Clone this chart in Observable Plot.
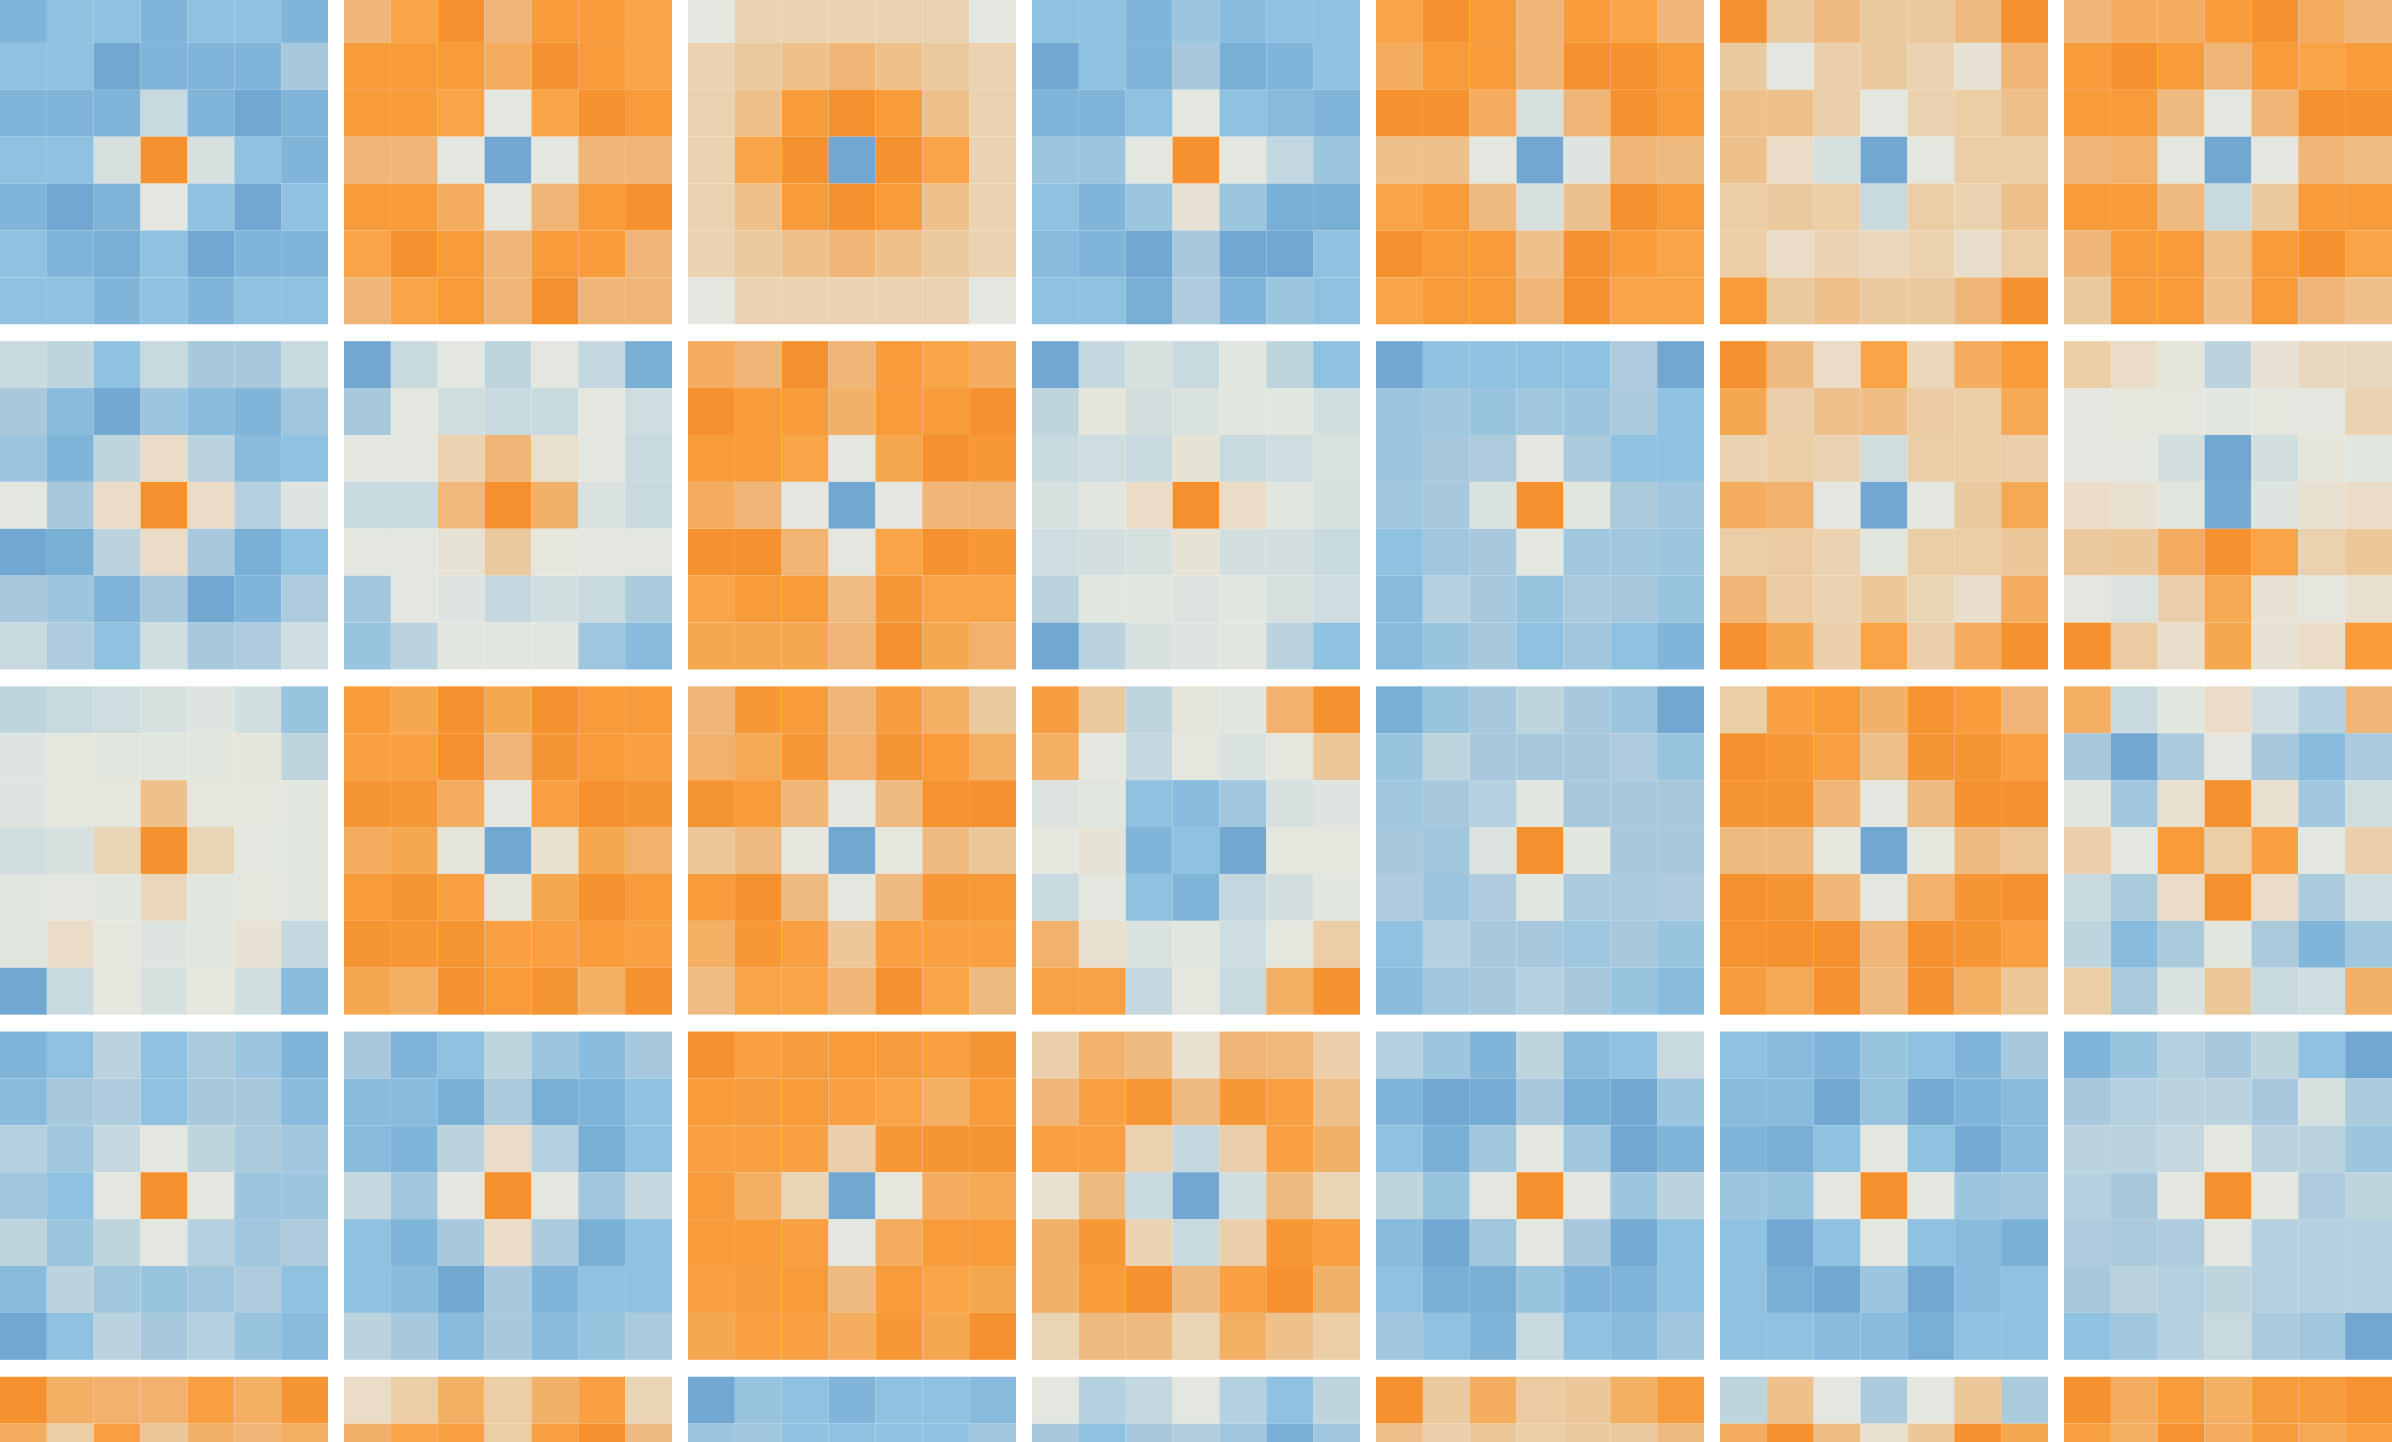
<!DOCTYPE html>
<html>
<head>
<meta charset="utf-8">
<script src="https://cdn.jsdelivr.net/npm/d3@7"></script>
<script src="https://cdn.jsdelivr.net/npm/@observablehq/plot@0.6"></script>
<style>
html, body { margin: 0; padding: 0; background: #ffffff; overflow: hidden; }
#chart svg { display: block; margin-top: -3.8px; }
</style>
</head>
<body>
<div id="chart"></div>
<script>
// Panel values (7x7 cells each), negative = blue, positive = orange.
const p00 = [[-4,-3,-3,-4,-3,-3,-4],[-3,-3,-5,-4,-4,-4,-2],[-4,-4,-4,-1,-4,-5,-4],[-3,-3,-0.5,5,-0.5,-3,-4],[-4,-5,-4,0,-3,-5,-3],[-3,-4,-4.5,-3,-5,-4,-4],[-3,-3,-4,-3,-4,-3,-3]];
const p01 = [[3,4,5,3,4.5,4.5,4],[4.5,4.5,4.5,3.5,5,4.5,4],[4.5,4.5,4,0,4,5,4.5],[3,3,0,-5,0,3,3],[4.5,4.5,3.5,0,3,4.5,5],[4,5,4.5,3,4.5,4.5,3],[3,4,4.5,3,5,3,3]];
const p02 = [[0,1.5,1.5,1.5,1.5,1.5,0],[1.5,2,2.5,3,2.5,2,1.5],[1.5,2.5,4.5,5,4.5,2.5,1.5],[1.5,4,5,-5,5,4,1.5],[1.5,2.5,4.5,5,4.5,2.5,1.5],[1.5,2,2.5,3,2.5,2,1.5],[0,1.5,1.5,1.5,1.5,1.5,0]];
const p03 = [[-3,-3,-4,-2.5,-3.5,-3,-3],[-5,-3,-4,-2,-4.5,-4,-3],[-4,-4,-3,0,-3,-3.5,-4],[-2.5,-2.5,0,5,0,-1.2,-2.5],[-3,-4,-2.5,0.5,-2.5,-4.5,-4.5],[-3.5,-4,-5,-2,-5,-5,-3],[-3,-3,-4.5,-1.8,-4,-2.5,-3]];
const p04 = [[4,5,4.5,3,4.5,4,3],[3.5,4.5,4.5,3,5,5,4.5],[5,5,3.5,-0.5,3,5,4.5],[2.5,2.5,0,-5,-0.2,3,2.8],[4,4.5,2.8,-0.5,2.4,5,4.5],[5,4.5,4.5,2.5,5,4.5,4],[4,4.5,4.5,3,5,4,4]];
const p05 = [[5,2,2.8,2,2,2.8,5],[2,0,1.7,2,1.5,0.5,3],[2.5,2.5,1.7,0,1.5,1.8,2.5],[2.5,1,-0.5,-5,0,1.8,1.8],[1.8,2,1.8,-1,1.8,1.5,2.5],[1.8,1,1.5,1.3,1.6,0.8,1.8],[4.5,2,2.5,2,2,3,5]];
const p06 = [[3,3.5,3.5,4.5,5,3.5,3],[4.5,5,4.5,3,4.5,4,4.5],[4.5,4.5,2.8,0,3,5,5],[3,3.2,0,-5,0,3,2.7],[4.5,4.5,2.8,-1,2,4.5,4.5],[3,4.5,4.5,2.6,4.5,5,4],[2,4.5,4.5,2.5,4.5,3,2.5]];

const p10 = [[-1,-1.3,-3,-1,-2,-2,-1],[-2,-3.5,-5,-2.5,-3.5,-4,-2.3],[-2.5,-4,-1.3,1,-1.4,-3.5,-3],[0,-2,1,5,1,-1.6,-0.2],[-5,-4.5,-1.4,1,-2,-4.5,-3],[-2,-2.5,-4,-2,-5,-4,-1.8],[-1,-1.8,-3,-0.7,-2,-1.8,-0.8]];
const p11 = [[-5,-1,0,-1.3,0,-1.1,-4.5],[-2,0,-0.7,-1,-1,0,-0.8],[0,0,1.5,3,0.7,0,-1],[-1,-1,2.9,5,3.3,-0.4,-1],[0,0,0.4,2,0.1,0,0],[-2.3,0,-0.2,-1.1,-0.7,-1,-1.9],[-2.6,-1.4,-0.1,-0.1,-0.1,-2.4,-3.5]];
const p12 = [[3.5,3,5,3,4.5,4,3.5],[5,4.5,4.5,3.3,4.5,4.5,5],[4.5,4.5,4,0,3.8,5,4.7],[3.5,3,0,-5,0,3,3],[5,5,3.1,0,4,5,4.7],[4,4.5,4.5,2.7,4.7,4,4],[3.8,3.8,3.8,3,5,3.8,3.2]];
const p13 = [[-5,-1.1,-0.5,-1,-0.1,-1.3,-3],[-1.3,0.2,-0.6,-0.4,-0.1,-0.1,-0.7],[-1,-0.8,-1,0.4,-1,-0.8,-0.4],[-0.5,-0.1,1,5,1,-0.1,-0.5],[-0.8,-0.6,-0.5,0.4,-0.6,-0.6,-1],[-1.4,-0.1,-0.1,-0.3,-0.1,-0.5,-0.8],[-5,-1.4,-0.5,-0.2,-0.1,-1.4,-3]];
const p14 = [[-5,-3,-3,-3,-3,-1.8,-5],[-2.5,-2.3,-2.6,-2.3,-2.5,-1.9,-3],[-2.5,-2,-1.8,0,-1.9,-3,-3],[-2.3,-2,-0.4,5,-0.1,-1.9,-2.3],[-3,-2.3,-2,0,-2.3,-2.3,-2.5],[-3.5,-1.6,-2,-2.6,-1.9,-2,-2.6],[-3.5,-2.6,-2,-3,-2.3,-3,-4]];
const p15 = [[5,2.8,1,4,1.3,3.5,4.5],[3.8,1.7,2.5,2.7,1.9,1.8,3.7],[1.5,1.8,1.5,-0.7,1.8,1.8,1.7],[3.5,3.2,0,-5,0,2,3.7],[1.8,1.9,1.5,-0.1,1.8,1.8,2.1],[3,1.9,1.5,2.1,1.4,0.8,3.5],[5,3.8,1.7,4,1.7,3.5,5]];
const p16 = [[1.8,1,0.2,-1.4,0.5,1.2,1.2],[0,0.1,0.1,-0.1,0.1,0,1.5],[0,0,-0.6,-5,-0.6,0.2,-0.1],[1,0.6,-0.1,-4.8,-0.2,0.6,1],[2,2.1,3.5,5,4,1.6,2.1],[0,-0.3,1.7,3.7,0.5,0.1,0.6],[5,1.9,0.8,3.8,0.5,1,4.5]];

const p20 = [[-1.3,-1,-0.8,-0.5,-0.2,-0.7,-2.6],[-0.2,0.1,-0.1,-0.1,-0.1,0.2,-1.3],[-0.2,0.1,0.1,2.5,0.1,0.1,-0.1],[-0.7,-0.5,1.4,5,1.4,0,-0.1],[-0.1,0,-0.1,1.3,-0.1,0.1,-0.1],[-0.1,1,0.1,-0.2,-0.1,0.5,-1.1],[-5,-1,0.1,-0.5,0.1,-0.7,-3.5]];
const p21 = [[4.5,3.8,5,3.8,5,4.5,4.5],[4.2,4.2,5,3,4.8,4.5,4.2],[4.8,4.7,3.5,0,4.2,5,4.8],[3.5,3.8,0.2,-5,0.7,3.8,3.2],[4.5,4.8,4.2,0.2,3.8,5,4.5],[4.8,4.7,4.8,4.2,4.2,4.5,4.2],[3.8,3.4,5,4.5,4.8,3.4,5]];
const p22 = [[3,4.7,4.5,3,4.4,3.4,2],[3.2,3.7,4.7,3.2,4.8,4.5,3.4],[4.8,4.5,3,0,2.8,4.9,5],[2.1,2.8,0.1,-5,0.1,2.8,2.1],[4.5,5,2.8,0,2.8,4.7,4.6],[3.4,4.7,4.2,2.1,4.2,4.2,4.2],[2.7,4,4,3,5,4,2.8]];
const p23 = [[4.3,2,-1.3,0.2,-0.1,3.2,5],[3.4,0,-1.1,0.1,-0.4,0.1,2.1],[-0.3,-0.1,-3,-3.5,-2.3,-0.5,-0.2],[0.1,0.4,-4,-3,-5,0.1,0.1],[-1,0,-3,-4,-1.1,-0.6,-0.1],[3.2,0.7,-0.4,-0.1,-0.8,0.1,1.8],[4.1,4.1,-1.1,0.1,-1,3.4,5]];
const p24 = [[-4.5,-2.6,-2,-1.3,-2,-2.5,-5],[-2.6,-1.3,-2,-2,-2,-1.8,-2.6],[-2.3,-2,-1.6,-0.1,-2,-2,-2],[-2,-2.3,-0.3,5,-0.1,-2,-2],[-1.8,-2.5,-1.8,-0.1,-1.9,-1.9,-1.8],[-3,-1.6,-2,-2,-2.4,-2,-2.6],[-3.5,-2.3,-2,-1.6,-2,-2.6,-3.5]];
const p25 = [[1.8,4.2,4.5,3.3,4.9,4.5,3],[5,4.7,4.2,2.5,4.8,4.8,4.2],[4.8,4.8,3,0,2.8,5,5],[2.8,2.8,0.1,-5,0.1,2.8,2.2],[5,4.8,3,0,3.2,4.8,5],[4.9,5,5,3,5,4.8,4.2],[4.4,3.7,5,2.8,5,3.4,2.1]];
const p26 = [[3.4,-1,-0.1,1,-0.8,-1.6,3],[-2,-5,-1.9,0,-2,-3.5,-1.9],[-0.1,-2.3,0.7,5,0.7,-2.3,-0.7],[1.7,0,4.5,1.8,4.2,0,1.7],[-1,-1.9,1,5,1,-1.9,-0.8],[-1.3,-3.5,-1.9,-0.1,-1.9,-4,-2.3],[1.8,-1.9,-0.4,2.1,-1,-0.8,3.3]];

const p30 = [[-4,-3,-1.4,-3,-1.9,-2.5,-4],[-3.5,-2,-1.8,-3,-2,-2,-3.5],[-1.6,-2.3,-1.1,0,-1.3,-1.9,-2.3],[-2.3,-3,0,5,0,-2.5,-2.5],[-1.3,-2.5,-1.3,0,-1.6,-2.3,-1.8],[-3.5,-1.4,-2.3,-2.6,-2.3,-1.8,-3],[-5,-3,-1.4,-2,-1.6,-2.6,-3.5]];
const p31 = [[-2,-4,-3,-1.3,-2.5,-3.5,-2],[-3.5,-3.5,-4.5,-1.9,-4.5,-4,-3],[-3.5,-4,-1.4,1,-1.6,-4.5,-3],[-1.1,-2.3,0,5,0,-2.3,-1.1],[-3,-4,-2,1,-1.9,-4.5,-3],[-3,-3.5,-5,-2,-4,-3,-3],[-1.4,-2,-3.5,-2,-3.5,-2.7,-1.9]];
const p32 = [[5,4.2,4.4,4.5,4.4,4.2,4.8],[4.5,4.4,4.5,4.2,4,3.4,4.5],[4.2,4.2,4.2,1.7,4.7,4.8,4.8],[4.5,3.4,1.4,-5,0.1,3.5,3.7],[4.5,4.5,4.2,0,3.5,4.5,4.5],[4.2,4.4,4.5,2.8,4.5,4,3.8],[3.8,4.2,4.2,3.5,4.7,3.8,5]];
const p33 = [[1.7,3.2,2.8,0.6,3,2.9,1.7],[3,4.2,4.7,2.8,4.7,4.2,2.5],[4.2,4.2,1.6,-1.1,1.7,4.2,3.3],[0.6,2.8,-1,-5,-0.7,2.8,1.4],[3.3,4.7,1.5,-1,1.7,4.7,4.2],[3.3,4.5,5,2.8,4.2,5,3.3],[1.4,2.8,2.8,1.4,3.4,2.5,1.8]];
const p34 = [[-1.6,-2.5,-4,-1.3,-3.5,-3,-1],[-4,-5,-4.7,-2,-4.5,-5,-2.5],[-3,-4.5,-2.3,0,-2.3,-5,-4],[-1.3,-2.6,0,5,0,-2.5,-1.4],[-3.5,-5,-2.3,0,-2,-4.8,-3],[-3,-4.5,-4.5,-2.6,-4,-4,-3],[-2.3,-3,-4,-1,-3,-3.5,-2.3]];
const p35 = [[-3,-3.5,-4,-2.6,-3,-4,-2],[-3.5,-3.5,-5,-2.7,-4.8,-4,-3.5],[-4,-4.5,-3,0,-3,-4.8,-3.5],[-2.5,-2.6,0,5,0,-2.5,-2.3],[-3,-5,-3,0,-3,-3.5,-4.5],[-3,-4.5,-5,-2.5,-5,-3.5,-3],[-3,-3,-3.5,-3.5,-4.5,-3,-3]];
const p36 = [[-4,-2.6,-1.6,-2,-1.3,-3,-5],[-2,-1.6,-1.4,-1.4,-2,-0.5,-1.9],[-1.4,-1.4,-1.1,0,-1.4,-1.4,-2.5],[-1.6,-2,0,5,0,-1.8,-1.3],[-1.8,-1.9,-1.8,0,-1.6,-1.6,-1.6],[-2,-1.4,-1.6,-1.3,-1.6,-1.6,-1.6],[-3,-2.3,-1.6,-1,-1.9,-2.3,-5]];

// Fifth row of panels: only its top two cell rows are visible.
const p40 = [[5,3.4,3.2,3.2,4.2,3.4,4.8],[3.5,1.8,4.2,2.1,3.3,3,3.4]];
const p41 = [[1,1.8,3.4,1.8,3.3,4.2,1.4],[3.3,4,4.2,1.8,4.2,5,2.8]];
const p42 = [[-5,-2.6,-3,-4,-3,-3,-3.5],[-2.5,-2.3,-3,-3,-3,-3,-2.3]];
const p43 = [[0,-1.6,-1.2,0,-1.6,-3,-1.3],[-2,-3,-2,-1.7,-2.3,-4.5,-2.3]];
const p44 = [[5,2,3.5,1.9,2.1,3.4,4.4],[2.5,1.7,2.1,1.8,2,2,2.8]];
const p45 = [[-1.3,2.5,0,-1.9,0,2.1,-1.9],[3.5,5,2.7,0.6,2.1,5,3.8]];
const p46 = [[5,3.5,4.5,3.4,4.4,4.4,4.9],[4.2,3.4,4.9,3.5,4.4,3.7,4.2]];

const panelRow0 = [p00, p01, p02, p03, p04, p05, p06];
const panelRow1 = [p10, p11, p12, p13, p14, p15, p16];
const panelRow2 = [p20, p21, p22, p23, p24, p25, p26];
const panelRow3 = [p30, p31, p32, p33, p34, p35, p36];
const panelRow4 = [p40, p41, p42, p43, p44, p45, p46];
const panelRows = [panelRow0, panelRow1, panelRow2, panelRow3, panelRow4];

const panelCols = [0, 1, 2, 3, 4, 5, 6];
const panelRowIds = [0, 1, 2, 3, 4];
const cellIds = [0, 1, 2, 3, 4, 5, 6];

const colorStops = [-5, -4, -3, -2, -1, 0, 1, 2, 3, 4, 5];
const colorHexes = ["#72a7d1", "#80b4d9", "#8fc1e0", "#a8c9dd", "#c8dadf", "#e4e7df", "#eadcc6", "#ebc99e", "#f0b677", "#f8a447", "#f6912f"];

const cells = [];
panelRows.forEach((row, r) => row.forEach((panel, c) => panel.forEach((line, i) => line.forEach((v, j) => {
  cells.push({fx: c, fy: r, x: j, y: i, v});
}))));

const chart = Plot.plot({
  width: 2392,
  height: 1709,
  margin: 0,
  style: {background: "#ffffff"},
  fx: {domain: panelCols, axis: null, paddingInner: 0.0465, paddingOuter: 0, round: false},
  fy: {domain: panelRowIds, axis: null, paddingInner: 0.049, paddingOuter: 0, round: false},
  x: {type: "band", domain: cellIds, axis: null, padding: 0, round: false},
  y: {type: "band", domain: cellIds, axis: null, padding: 0, round: false},
  color: {type: "linear", domain: colorStops, range: colorHexes, interpolate: "rgb"},
  marks: [
    Plot.cell(cells, {fx: "fx", fy: "fy", x: "x", y: "y", fill: "v"})
  ]
});
document.getElementById("chart").appendChild(chart);
</script>
</body>
</html>
